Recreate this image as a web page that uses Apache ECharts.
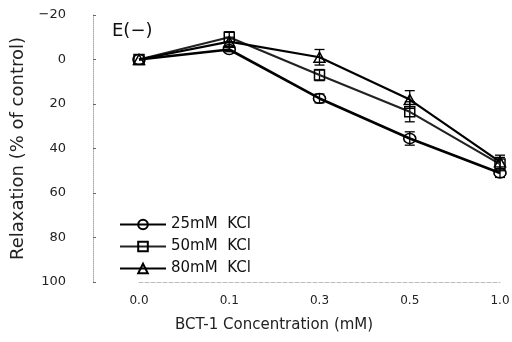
<!DOCTYPE html>
<html>
<head>
<meta charset="utf-8">
<script src="https://cdn.jsdelivr.net/npm/echarts@6/dist/echarts.min.js"></script>
<style>
    html, body { margin: 0; padding: 0; background: #fff; }
    #chart { width: 512px; height: 342px; }
</style>
</head>
<body>
<div id="chart"></div>
<script>
// concentrations (mM) and relaxation (% of control)
const categories = ['0.0', '0.1', '0.3', '0.5', '1.0'];
const kcl25 = [0, -4.5, 17.5, 35.5, 51];
const kcl50 = [0, -10, 7, 23.5, 47];
const kcl80 = [0, -8, -1, 18, 46];
const err25 = [0, 1, 2, 3, 2];
const err50 = [0, 2.5, 2.5, 4.5, 3];
const err80 = [0, 2, 3.5, 4, 3];
const seriesNames = ['25mM  KCl', '50mM  KCl', '80mM  KCl'];

const font = 'DejaVu Sans';

function errData(vals, errs) {
    return vals.map((v, i) => [i, v - errs[i], v + errs[i]]);
}

function errSeries(vals, errs) {
    return {
        type: 'custom',
        data: errData(vals, errs),
        encode: { x: 0, y: [1, 2] },
        silent: true,
        z: 1,
        renderItem(params, api) {
            if (api.value(1) === api.value(2)) return;
            const lo = api.coord([api.value(0), api.value(1)]);
            const hi = api.coord([api.value(0), api.value(2)]);
            const w = 5;
            const style = { stroke: '#000', lineWidth: 1.3 };
            return {
                type: 'group',
                children: [
                    { type: 'line', shape: { x1: lo[0], y1: lo[1], x2: hi[0], y2: hi[1] }, style },
                    { type: 'line', shape: { x1: lo[0] - w, y1: lo[1], x2: lo[0] + w, y2: lo[1] }, style },
                    { type: 'line', shape: { x1: hi[0] - w, y1: hi[1], x2: hi[0] + w, y2: hi[1] }, style },
                ],
            };
        },
    };
}

function lineSeries(name, vals, symbol, size, width, color) {
    return {
        name: name,
        type: 'line',
        data: vals,
        symbol: symbol,
        symbolSize: size,
        showAllSymbol: true,
        z: 3,
        lineStyle: { color: color, width: width },
        itemStyle: { color: 'rgba(255,255,255,0)', borderColor: '#000', borderWidth: 1.5 },
    };
}

const chart = echarts.init(document.getElementById('chart'));
chart.setOption({
    animation: false,
    backgroundColor: '#fff',
    grid: { left: 139, right: 12, top: 15, bottom: 60, outerBoundsMode: 'none' },
    legend: {
        orient: 'vertical',
        left: 114,
        top: 212,
        itemWidth: 46,
        itemHeight: 12,
        itemGap: 7,
        data: seriesNames,
        textStyle: { fontFamily: font, fontSize: 15, color: '#111' },
    },
    xAxis: {
        type: 'category',
        data: categories,
        boundaryGap: false,
        axisLine: { onZero: false, lineStyle: { color: '#bbb', type: 'dashed', width: 1 } },
        axisTick: { show: false },
        axisLabel: { fontFamily: font, fontSize: 12, color: '#222', margin: 13 },
    },
    yAxis: {
        type: 'value',
        inverse: true,
        min: -20,
        max: 100,
        interval: 20,
        offset: 46,
        splitLine: { show: false },
        axisLine: { show: true, lineStyle: { color: '#aaa', type: 'dotted', width: 1 } },
        axisTick: { show: true, inside: true, length: 3, lineStyle: { color: '#666' } },
        axisLabel: {
            fontFamily: font, fontSize: 13, color: '#222', margin: 27,
            formatter: v => String(v).replace('-', '−'),
        },
        name: 'Relaxation (% of control)',
        nameLocation: 'middle',
        nameGap: 66,
        nameTextStyle: { fontFamily: font, fontSize: 18, color: '#222' },
    },
    graphic: [
        {
            type: 'text',
            left: 112,
            top: 22,
            style: { text: 'E(−)', font: '18px ' + font, fill: '#111' },
        },
        {
            type: 'text',
            left: 175,
            top: 318,
            style: { text: 'BCT-1 Concentration (mM)', font: '15px ' + font, fill: '#222' },
        },
    ],
    series: [
        errSeries(kcl25, err25),
        errSeries(kcl50, err50),
        errSeries(kcl80, err80),
        lineSeries(seriesNames[0], kcl25, 'circle', [12, 10], 2.6, '#000'),
        lineSeries(seriesNames[1], kcl50, 'rect', [10, 10], 2.1, '#222'),
        lineSeries(seriesNames[2], kcl80, 'triangle', [11, 10], 2.2, '#000'),
    ],
});
</script>
</body>
</html>
